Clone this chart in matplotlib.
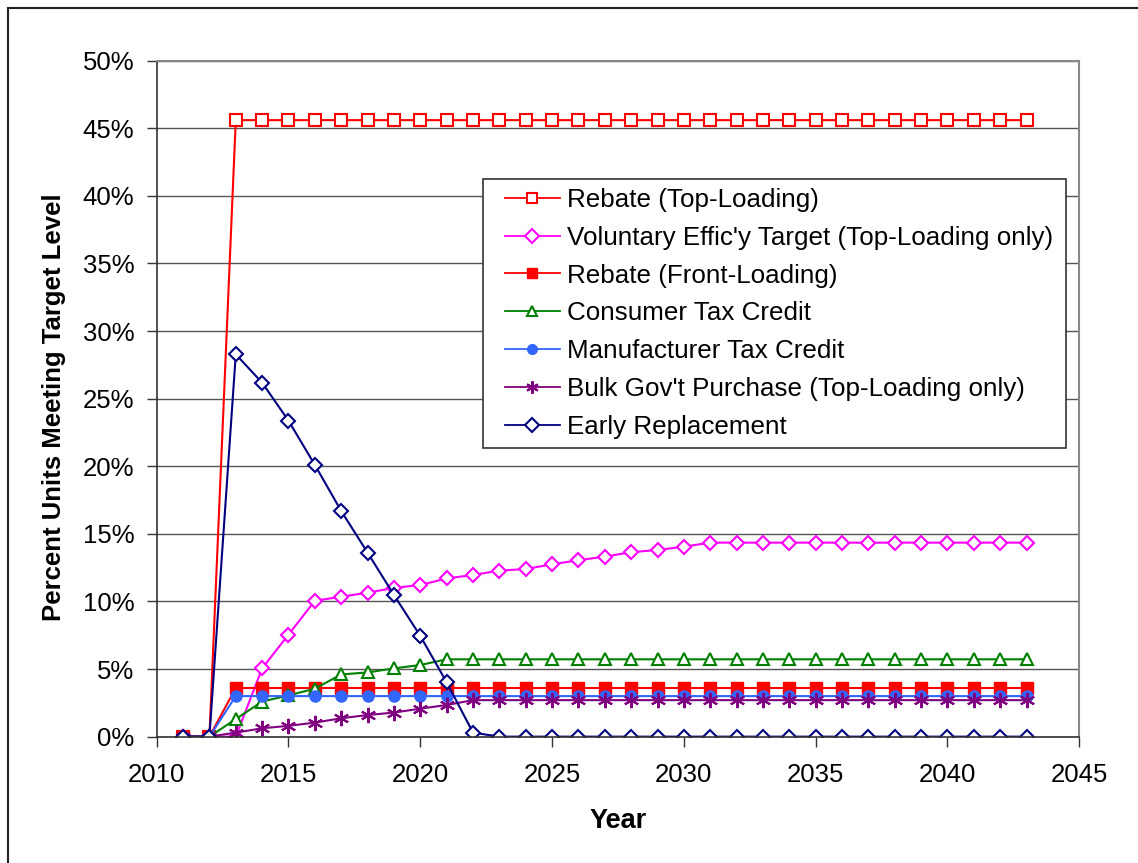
import matplotlib
matplotlib.use("Agg")
import matplotlib.pyplot as plt
from matplotlib.patches import Rectangle
from matplotlib.ticker import FuncFormatter

plt.rcParams['font.family'] = ['Liberation Sans', 'DejaVu Sans']

years = list(range(2011, 2044))

# percent of units meeting the target level, per policy case
rebate_top = [0, 0] + [45.6] * 31
voluntary_top = [0, 0, 0, 5.05, 7.55, 10.05, 10.35, 10.65, 11.0, 11.22, 11.7,
                 11.96, 12.28, 12.4, 12.75, 13.05, 13.32, 13.64, 13.81, 14.05] + [14.35] * 13
rebate_front = [0, 0] + [3.6] * 31
consumer_credit = [0, 0, 1.3, 2.6, 3.05, 3.55, 4.6, 4.75, 5.05, 5.3] + [5.72] * 23
manufacturer_credit = [0, 0] + [3.0] * 31
bulk_purchase = [0, 0, 0.3, 0.62, 0.8, 1.04, 1.36, 1.6, 1.78, 2.07, 2.34] + [2.7] * 22
early_replacement = [0, 0, 28.28, 26.18, 23.37, 20.1, 16.69, 13.61, 10.48, 7.45, 4.02,
                     0.3] + [0] * 21

labels = ["Rebate (Top-Loading)",
          "Voluntary Effic'y Target (Top-Loading only)",
          "Rebate (Front-Loading)",
          "Consumer Tax Credit",
          "Manufacturer Tax Credit",
          "Bulk Gov't Purchase (Top-Loading only)",
          "Early Replacement"]

W, H = 1138, 863
fig = plt.figure(figsize=(W / 100, H / 100), dpi=100)
ax = fig.add_axes([0.1377, 0.1464, 0.9484 - 0.1377, 0.9297 - 0.1464])

ax.plot(years, rebate_top, color='#FF0000', lw=1.5, marker='s', ms=8,
        mfc='white', mec='#FF0000', mew=1.5, label=labels[0])
ax.plot(years, voluntary_top, color='#FF00FF', lw=1.5, marker='D', ms=7,
        mfc='white', mec='#FF00FF', mew=1.5, label=labels[1])
ax.plot(years, rebate_front, color='#FF0000', lw=1.5, marker='s', ms=8,
        mfc='#FF0000', mec='#FF0000', label=labels[2])
ax.plot(years, consumer_credit, color='#008000', lw=1.5, marker='^', ms=9,
        mfc='white', mec='#008000', mew=1.5, label=labels[3])
ax.plot(years, manufacturer_credit, color='#3366FF', lw=1.5, marker='o', ms=8,
        mfc='#3366FF', mec='#3366FF', label=labels[4])
ax.plot(years, bulk_purchase, color='#800080', lw=1.5, marker=(6, 2, 0), ms=11,
        mec='#800080', mew=1.5, label=labels[5])
ax.plot(years, early_replacement, color='#000080', lw=1.5, marker='D', ms=7,
        mfc='white', mec='#000080', mew=1.5, label=labels[6])

ax.set_xlim(2010, 2045)
ax.set_ylim(0, 50)
ax.set_xticks(range(2010, 2046, 5))
ax.set_yticks(range(0, 51, 5))
ax.yaxis.set_major_formatter(FuncFormatter(lambda v, p: f"{v:.0f}%"))
ax.tick_params(axis='both', direction='out', length=7, width=1, labelsize=18.5,
               color='#333333')
ax.tick_params(axis='y', pad=9)
ax.tick_params(axis='x', pad=12)

ax.grid(axis='y', color='#555555', lw=1)
ax.set_axisbelow(True)
for side in ('left', 'bottom'):
    ax.spines[side].set_color('#333333')
    ax.spines[side].set_linewidth(1.2)
for side in ('top', 'right'):
    ax.spines[side].set_color('#888888')
    ax.spines[side].set_linewidth(1.5)

ax.set_xlabel("Year", fontsize=19.5, fontweight='bold', labelpad=15)
ax.set_ylabel("Percent Units Meeting Target Level", fontsize=18.5,
              fontweight='bold')
ax.yaxis.set_label_coords(-0.0985, 0.487)

# legend box drawn separately so the padding can differ per side
ax.add_patch(Rectangle((483 / W, 1 - 448 / H), (1066 - 483) / W, (448 - 179) / H,
                       transform=fig.transFigure, facecolor='white',
                       edgecolor='#333333', lw=1.2, zorder=4, clip_on=False))
leg = ax.legend(loc='upper left', bbox_to_anchor=(505 / W, 1 - 188 / H),
                bbox_transform=fig.transFigure, fontsize=18.75, frameon=False,
                handlelength=2.1, handletextpad=0.27, labelspacing=0.53,
                borderpad=0, borderaxespad=0)
leg.set_zorder(5)
for h in leg.legend_handles:
    h.set_markersize(7)
    h.set_linewidth(1.3)
leg.legend_handles[5].set_markersize(9)

# chart area border
fig.patches.append(Rectangle((8 / W, -0.05), 1.2, 1.05 - 8 / H,
                             transform=fig.transFigure, fill=False,
                             edgecolor='#222222', lw=1.5))

fig.savefig("out.png", dpi=100)
